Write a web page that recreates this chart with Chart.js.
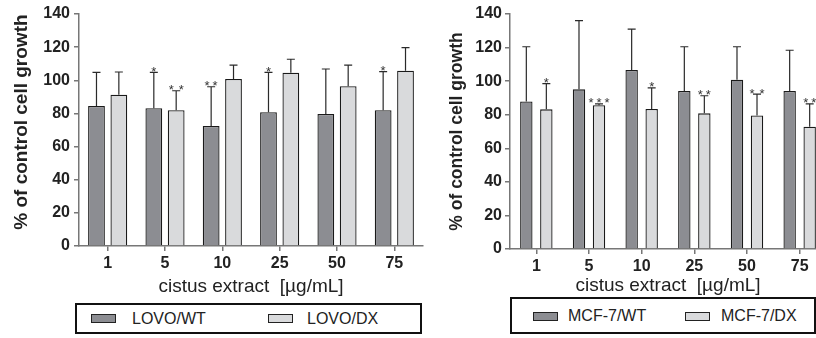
<!DOCTYPE html>
<html>
<head>
<meta charset="utf-8">
<script src="https://cdn.jsdelivr.net/npm/chart.js@4.4.1/dist/chart.umd.min.js"></script>
<style>
  body { margin: 0; width: 816px; height: 338px; overflow: hidden; background: #fff; position: relative;
         font-family: "Liberation Sans", Arial, sans-serif; }
  canvas { position: absolute; top: 0; }
  #leftChart { left: 0; }
  #rightChart { left: 440px; }
  .legend { position: absolute; border: 2px solid #111; box-sizing: border-box; background: #fff; }
  .sw { position: absolute; width: 25px; height: 9px; border: 1.5px solid #222; box-sizing: border-box; }
  .lbl { position: absolute; font-size: 16px; color: #222; line-height: 15px; }
</style>
</head>
<body>
<canvas id="leftChart" width="440" height="300"></canvas>
<canvas id="rightChart" width="400" height="300"></canvas>

<div class="legend" style="left:75px;top:303px;width:347px;height:31px;">
  <div class="sw" style="left:14px;top:9px;background:#8c8d92;"></div>
  <div class="lbl" style="left:55px;top:6px;">LOVO/WT</div>
  <div class="sw" style="left:191px;top:9px;background:#d9dadc;"></div>
  <div class="lbl" style="left:230px;top:6px;">LOVO/DX</div>
</div>
<div class="legend" style="left:510px;top:297px;width:306px;height:37px;">
  <div class="sw" style="left:21px;top:13px;background:#8c8d92;"></div>
  <div class="lbl" style="left:56px;top:9px;">MCF-7/WT</div>
  <div class="sw" style="left:173px;top:13px;background:#d9dadc;"></div>
  <div class="lbl" style="left:209px;top:9px;">MCF-7/DX</div>
</div>

<script>
// Concentrations (x categories) and y ticks
const categories = ['1', '5', '10', '25', '50', '75'];
const yTicks = [0, 20, 40, 60, 80, 100, 120, 140];

// LOVO cells: mean, top of error bar, significance marks
const lovoWT = [84.5, 83.1, 72.4, 80.7, 79.7, 81.9];
const lovoWTTop = [104.8, 104.8, 96.1, 104.8, 106.8, 105.2];
const lovoWTStars = ['', '*', '**', '*', '', '*'];
const lovoDX = [91.3, 81.9, 100.8, 104.6, 96.4, 105.8];
const lovoDXTop = [105, 93.7, 109.2, 112.7, 109.2, 119.7];
const lovoDXStars = ['', '* *', '', '', '', ''];

// MCF-7 cells
const mcfWT = [87.9, 95.1, 106.6, 94.1, 100.8, 94.1];
const mcfWTTop = [120.5, 136, 131, 120.5, 120.5, 118.4];
const mcfWTStars = ['', '', '', '', '', ''];
const mcfDX = [83.2, 85.6, 83.4, 80.8, 79.6, 72.8];
const mcfDXTop = [98.5, 86.5, 96, 91.3, 92.3, 86.5];
const mcfDXStars = ['*', '***', '*', '**', '* *', '**'];

const DARK = '#8c8d92';
const LIGHT = '#d9dadc';
const AXIS = '#777';
const FONT = '"Liberation Sans", Arial, sans-serif';

Chart.defaults.font.family = FONT;
Chart.defaults.color = '#222';

// upper error bars + asterisks
const errorBars = {
  id: 'errorBars',
  afterDatasetsDraw(chart) {
    const ctx = chart.ctx;
    const yScale = chart.scales.y;
    chart.data.datasets.forEach((ds, i) => {
      const meta = chart.getDatasetMeta(i);
      meta.data.forEach((bar, j) => {
        const top = yScale.getPixelForValue(ds.errTop[j]);
        ctx.save();
        ctx.strokeStyle = '#2a2a2a';
        ctx.lineWidth = 1.2;
        ctx.beginPath();
        ctx.moveTo(bar.x, bar.y);
        ctx.lineTo(bar.x, top);
        ctx.moveTo(bar.x - 4, top);
        ctx.lineTo(bar.x + 4, top);
        ctx.stroke();
        const s = ds.stars[j];
        if (s) {
          // each asterisk drawn on its own, wider gap where the label has a space
          const n = s.replace(/ /g, '').length;
          const gap = s.includes(' ') ? 10 : 8;
          ctx.fillStyle = '#333';
          ctx.font = '13px ' + FONT;
          ctx.textAlign = 'center';
          ctx.textBaseline = 'alphabetic';
          for (let k = 0; k < n; k++) {
            ctx.fillText('*', bar.x + (k - (n - 1) / 2) * gap, top + 3.5);
          }
        }
        ctx.restore();
      });
    });
  }
};

function makeChart(id, cfg) {
  return new Chart(document.getElementById(id), {
    type: 'bar',
    data: {
      labels: categories,
      datasets: [
        { data: cfg.wt, errTop: cfg.wtTop, stars: cfg.wtStars, backgroundColor: DARK },
        { data: cfg.dx, errTop: cfg.dxTop, stars: cfg.dxStars, backgroundColor: LIGHT }
      ].map(ds => ({
        ...ds,
        borderColor: '#1a1a1a',
        borderWidth: 1.3,
        barPercentage: cfg.barPct,
        categoryPercentage: cfg.catPct
      }))
    },
    options: {
      responsive: false,
      animation: false,
      layout: { padding: { top: 14, right: cfg.rightPad, bottom: 0, left: 0 } },
      plugins: { legend: { display: false }, tooltip: { enabled: false } },
      scales: {
        x: {
          grid: { drawOnChartArea: false, offset: false, tickLength: 5, color: AXIS, lineWidth: 1.5 },
          border: { color: AXIS, width: 1.5 },
          ticks: { font: { size: 16, weight: 'bold' }, padding: 3, maxRotation: 0 },
          title: {
            display: true, text: 'cistus extract  [µg/mL]',
            font: { size: 19 }, padding: { top: 0, bottom: cfg.xTitlePad }
          },
          afterFit: s => { s.height = cfg.xHeight; }
        },
        y: {
          min: 0, max: 140,
          afterBuildTicks: s => { s.ticks = yTicks.map(v => ({ value: v })); },
          grid: { drawOnChartArea: false, tickLength: 5, color: AXIS, lineWidth: 1.5 },
          border: { color: AXIS, width: 1.5 },
          ticks: { font: { size: 16, weight: 'bold' }, padding: cfg.yTickPad },
          title: {
            display: true, text: cfg.yTitle,
            font: { size: cfg.yTitleSize, weight: 'bold' }, padding: { top: cfg.yTitlePad, bottom: 0 }
          },
          afterFit: s => { s.width = cfg.yWidth; }
        }
      }
    },
    plugins: [errorBars]
  });
}

makeChart('leftChart', {
  wt: lovoWT, wtTop: lovoWTTop, wtStars: lovoWTStars,
  dx: lovoDX, dxTop: lovoDXTop, dxStars: lovoDXStars,
  barPct: 0.75, catPct: 0.78, rightPad: 17,
  xHeight: 54, xTitlePad: 2, yWidth: 79, yTickPad: 4,
  yTitle: '   % of control cell growth', yTitleSize: 19, yTitlePad: 10
});

makeChart('rightChart', {
  wt: mcfWT, wtTop: mcfWTTop, wtStars: mcfWTStars,
  dx: mcfDX, dxTop: mcfDXTop, dxStars: mcfDXStars,
  barPct: 0.62, catPct: 0.76, rightPad: 14,
  xHeight: 51, xTitlePad: 3, yWidth: 70, yTickPad: 3,
  yTitle: '% of control cell growth', yTitleSize: 17.5, yTitlePad: 7
});
</script>
</body>
</html>
